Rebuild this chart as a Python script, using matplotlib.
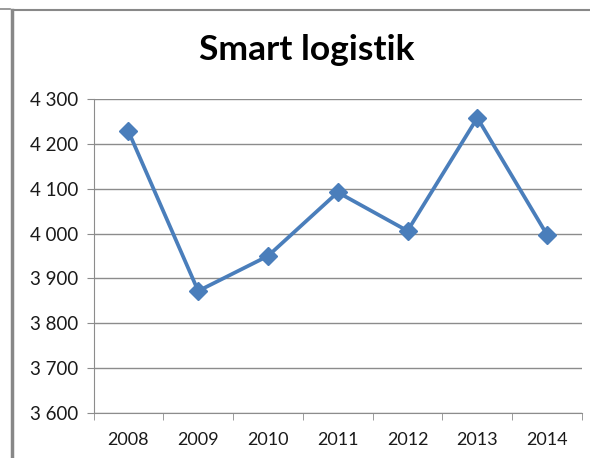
import matplotlib.pyplot as plt
from matplotlib.lines import Line2D
from matplotlib.ticker import FixedLocator, FuncFormatter

years = ["2008", "2009", "2010", "2011", "2012", "2013", "2014"]
values = [4228, 3872, 3950, 4092, 4006, 4258, 3997]
y_ticks = [3600, 3700, 3800, 3900, 4000, 4100, 4200, 4300]

plt.rcParams["font.family"] = ["Lato", "DejaVu Sans"]

fig = plt.figure(figsize=(5.9, 4.58), dpi=100)
W, H = 590, 458
ax = fig.add_axes([93.5 / W, 1 - 413 / H, (582 - 93.5) / W, (413 - 99) / H])

x = list(range(len(years)))
ax.plot(x, values, color="#4a7ebb", linewidth=2.7, marker="D", markersize=9.5,
        markerfacecolor="#4a7ebb", markeredgecolor="#4a7ebb", zorder=3)

ax.set_xlim(-0.5, len(years) - 0.5)
ax.set_ylim(3600, 4300)
ax.set_xticks(x)
ax.set_xticklabels(years)
ax.xaxis.set_minor_locator(FixedLocator([i - 0.5 for i in range(len(years) + 1)]))
ax.tick_params(axis="x", which="major", length=0, pad=14, labelsize=13, labelcolor="#1a1a1a")
ax.tick_params(axis="x", which="minor", length=5, color="#8c8c8c", direction="out")

ax.set_yticks(y_ticks)
ax.yaxis.set_major_formatter(FuncFormatter(lambda v, p: f"{int(v):,}".replace(",", " ")))
ax.tick_params(axis="y", length=5, color="#8c8c8c", pad=6, labelsize=13.5, labelcolor="#1a1a1a")
ax.grid(axis="y", color="#8c8c8c", linewidth=1)
ax.set_axisbelow(True)

for side in ["top", "right"]:
    ax.spines[side].set_visible(False)
ax.spines["left"].set_color("#8c8c8c")
ax.spines["bottom"].set_color("#8c8c8c")

fig.text(307 / W, 1 - 50 / H, "Smart logistik", ha="center", va="center",
         fontsize=25.5, fontweight="bold", color="black")

# chart frame
fig.add_artist(Line2D([11.5 / W, 11.5 / W], [1 - 10 / H, 0], transform=fig.transFigure,
                      color="#888888", linewidth=2.5))
fig.add_artist(Line2D([11.5 / W, 1], [1 - 9.5 / H, 1 - 9.5 / H], transform=fig.transFigure,
                      color="#888888", linewidth=1.5))
fig.add_artist(Line2D([0, 10 / W], [1 - 9 / H, 1 - 9 / H], transform=fig.transFigure,
                      color="#888888", linewidth=1.2))

fig.savefig("out.png", dpi=100)
